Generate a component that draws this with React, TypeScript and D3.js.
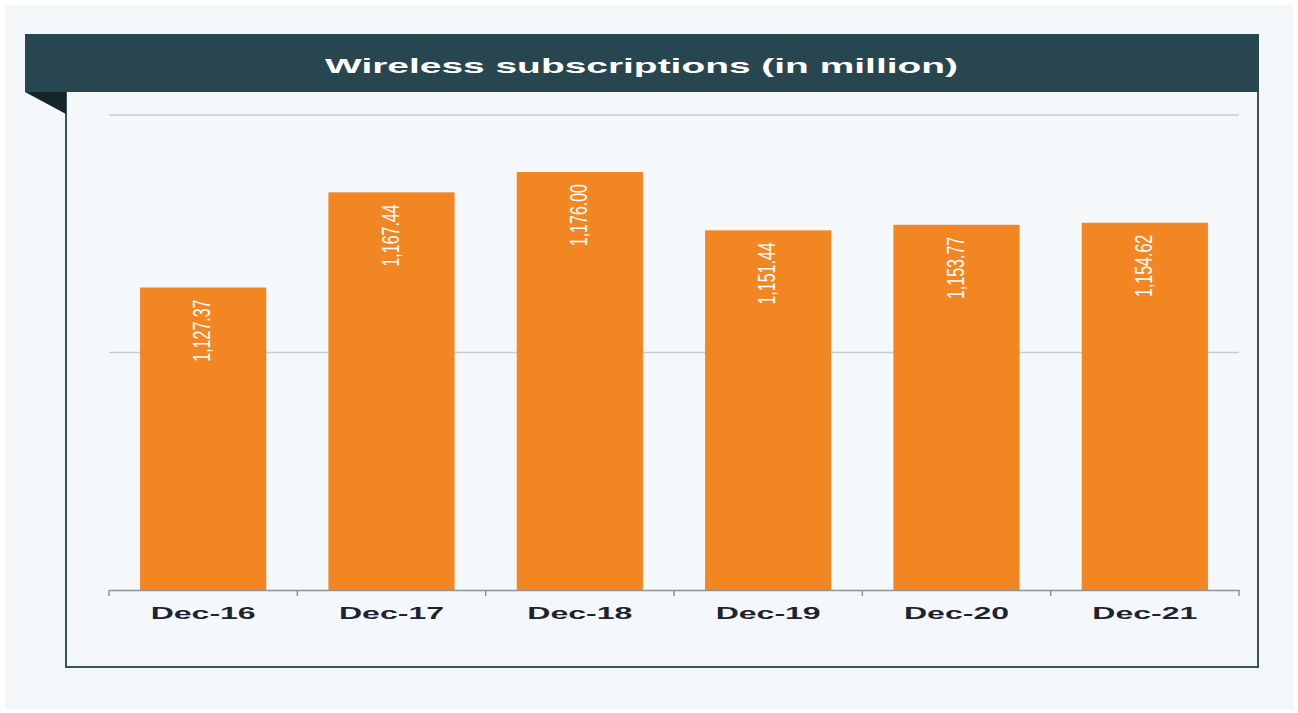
import { useEffect, useRef } from "react";
import * as d3 from "d3";

const categories = ["Dec-16", "Dec-17", "Dec-18", "Dec-19", "Dec-20", "Dec-21"];
const values = [1127.37, 1167.44, 1176.0, 1151.44, 1153.77, 1154.62];
const gridTicks = [1000, 1100, 1200];
const title = "Wireless subscriptions (in million)";

const W = 1298;
const H = 713;

export default function App() {
  const ref = useRef<SVGSVGElement>(null);

  useEffect(() => {
    if (!ref.current) return;
    const svg = d3.select(ref.current);
    svg.selectAll("*").remove();

    // page background
    svg.append("rect").attr("width", W).attr("height", H).attr("fill", "#ffffff");
    svg.append("rect").attr("x", 5).attr("y", 5).attr("width", W - 10).attr("height", H - 8).attr("fill", "#f4f7f9");

    // content box
    svg
      .append("rect")
      .attr("x", 66)
      .attr("y", 80)
      .attr("width", 1192)
      .attr("height", 587)
      .attr("fill", "#f5f8fa")
      .attr("stroke", "#3a545e")
      .attr("stroke-width", 2);

    // header band + fold
    svg.append("rect").attr("x", 25).attr("y", 34).attr("width", 1234).attr("height", 58).attr("fill", "#28464f");
    svg.append("path").attr("d", "M25,92 L66,92 L66,114 Z").attr("fill", "#15252a");

    // the source picture is stretched sideways, so the text is too
    svg
      .append("text")
      .attr("x", 325)
      .attr("y", 73)
      .attr("textLength", 633)
      .attr("lengthAdjust", "spacingAndGlyphs")
      .attr("fill", "#ffffff")
      .style("font-family", "'Liberation Sans', Arial, sans-serif")
      .style("font-weight", "bold")
      .style("font-size", "21px")
      .text(title);

    const margin = { left: 109, right: 1239, top: 115, bottom: 590 };

    const x = d3.scaleBand<string>().domain(categories).range([margin.left, margin.right]).paddingInner(0.33).paddingOuter(0.165);
    const y = d3.scaleLinear().domain([1000, 1200]).range([margin.bottom, margin.top]);

    // gridlines
    svg
      .append("g")
      .selectAll("line")
      .data(gridTicks.slice(1))
      .join("line")
      .attr("x1", margin.left)
      .attr("x2", margin.right)
      .attr("y1", (d) => y(d))
      .attr("y2", (d) => y(d))
      .attr("stroke", "#c8cccf")
      .attr("stroke-width", 1.5);

    // bars
    svg
      .append("g")
      .selectAll("rect")
      .data(values)
      .join("rect")
      .attr("x", (_, i) => x(categories[i]) ?? 0)
      .attr("y", (d) => y(d))
      .attr("width", x.bandwidth())
      .attr("height", (d) => y(1000) - y(d))
      .attr("fill", "#f28622");

    // value labels
    svg
      .append("g")
      .selectAll("text")
      .data(values)
      .join("text")
      .attr("transform", (d, i) => {
        const cx = (x(categories[i]) ?? 0) + x.bandwidth() / 2 + 7;
        return `translate(${cx},${y(d) + 12}) scale(1.45,1) rotate(-90)`;
      })
      .attr("text-anchor", "end")
      .attr("fill", "#ffffff")
      .style("font-family", "'Liberation Sans', Arial, sans-serif")
      .style("font-size", "16px")
      .text((d) => d3.format(",.2f")(d));

    // x axis
    const xAxis = d3.axisBottom(x).tickSize(0).tickPadding(12);
    const gx = svg.append("g").attr("transform", `translate(0,${margin.bottom})`).call(xAxis);
    gx.select(".domain").attr("stroke", "#8f9396").attr("stroke-width", 1.5);
    gx.selectAll<SVGTextElement, string>("text")
      .attr("textLength", 105)
      .attr("lengthAdjust", "spacingAndGlyphs")
      .attr("dy", "1em")
      .style("font-family", "'Liberation Sans', Arial, sans-serif")
      .style("font-size", "17px")
      .style("font-weight", "600")
      .attr("fill", "#1d2430");

    // boundary ticks between categories
    const bounds = d3.range(categories.length + 1).map((i) => margin.left + (i * (margin.right - margin.left)) / categories.length);
    gx.selectAll(".bound")
      .data(bounds)
      .join("line")
      .attr("class", "bound")
      .attr("x1", (d) => d)
      .attr("x2", (d) => d)
      .attr("y1", 0)
      .attr("y2", 6)
      .attr("stroke", "#8f9396")
      .attr("stroke-width", 1.5);
  }, []);

  return (
    <svg
      ref={ref}
      width={W}
      height={H}
      style={{ position: "absolute", left: 0, top: 0, display: "block" }}
    />
  );
}
